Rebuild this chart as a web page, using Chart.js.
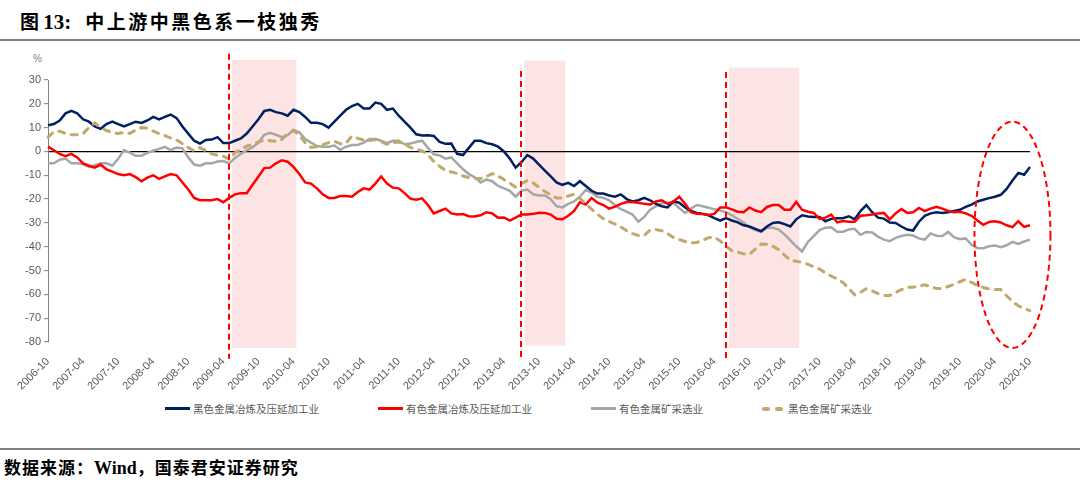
<!DOCTYPE html>
<html>
<head>
<meta charset="utf-8">
<script src="https://cdn.jsdelivr.net/npm/chart.js@4.4.0/dist/chart.umd.min.js"></script>
<style>
  body { margin: 0; width: 1080px; height: 491px; background: #fff; position: relative; overflow: hidden; }
  .title { position: absolute; left: 20px; top: 7px; font: bold 19px "Noto Sans CJK SC", sans-serif; color: #000; white-space: nowrap; }
  .title .num { font-family: "Liberation Serif", serif; font-size: 21px; }
  .title .cn { letter-spacing: 2.5px; margin-left: 14px; }
  .rule { position: absolute; left: 0; width: 1080px; height: 2px; background: #7f7f7f; }
  .unit { position: absolute; left: 33px; top: 53px; font: 10px "Liberation Sans", Arial, sans-serif; color: #7f7f7f; }
  #wrap { position: absolute; left: 0; top: 45px; width: 1080px; height: 350px; }
  #legend { position: absolute; left: 165px; top: 401px; display: flex; gap: 59px; font: 10.5px "Noto Sans CJK SC", sans-serif; color: #595959; }
  #legend .item { display: flex; align-items: center; }
  #legend .line { width: 25px; height: 3px; margin-right: 3px; }
  #legend .dash { width: 8px; height: 4px; border-radius: 2px; margin-right: 5px; }
  .source { position: absolute; left: 4px; top: 454px; font: bold 17px "Noto Sans CJK SC", sans-serif; letter-spacing: 1px; color: #000; white-space: nowrap; }
  .source .en { font-family: "Liberation Serif", serif; font-size: 18px; letter-spacing: 0; }
</style>
</head>
<body>
<div class="title">图 <span class="num">13:</span><span class="cn">中上游中黑色系一枝独秀</span></div>
<div class="rule" style="top:39px"></div>
<div class="unit">%</div>
<div id="wrap"><canvas id="chart" width="1080" height="350"></canvas></div>
<div id="legend"></div>
<div class="rule" style="top:448px"></div>
<div class="source">数据来源：<span class="en">Wind</span>，国泰君安证券研究</div>
<script>
// monthly labels 2006-10 .. 2020-10
const labels = [];
for (let yr = 2006, mo = 10; yr < 2020 || (yr === 2020 && mo <= 10); mo++) {
  if (mo > 12) { mo = 1; yr++; }
  labels.push(yr + '-' + String(mo).padStart(2, '0'));
}

const seriesNames = ['黑色金属冶炼及压延加工业', '有色金属冶炼及压延加工业', '有色金属矿采选业', '黑色金属矿采选业'];

const ferrousSmelting = [
  11, 11.5, 13, 16, 17, 16, 13.5, 12.5, 10.5, 9.5, 11.5, 12.5,
  11.5, 10.5, 11.5, 12.5, 12, 13, 14.5, 13.5, 14.5, 15.5, 14, 10.5,
  7.5, 4.5, 3.3, 4.8, 5, 6, 3.5, 3.5, 4.5, 5.5, 7.5, 10.5,
  13.5, 17, 17.5, 16.5, 16, 15, 17.5, 16.5, 14.5, 12, 12, 11.5,
  10, 12.5, 15, 17.5, 19, 20, 18, 18, 20.5, 20, 17.5, 18,
  15, 12.5, 10, 7.2, 6.7, 6.8, 6.5, 4, 3.2, 3.3, -1, -1.5,
  1.5, 4.5, 4.5, 3.5, 3, 2, 0, -3, -6.8, -4.5, -1.5, -3,
  -5.5, -8, -10.5, -13, -14, -13.2, -14.5, -12.5, -14.5, -16.5, -17.7, -17.7,
  -18.5, -19, -18, -20, -21, -20.5, -19.5, -20.5, -22, -23, -23.5, -21,
  -21.5, -23.5, -25, -25.8, -26.2, -26.8, -28, -29, -28, -29, -29.8, -31,
  -31.5, -32.5, -33.5, -31.5, -30, -29.7, -30.5, -31.5, -28.5, -26.8, -27.3, -27.5,
  -27.5, -29.3, -28.3, -28, -28, -27.2, -28.5, -25, -22.5, -25.5, -27.8, -28.2,
  -29.8, -30, -31.5, -32.8, -33.2, -29.5, -27, -26, -25.5, -25.8, -25.5, -25,
  -24.5, -23.3, -22.3, -21, -20.3, -19.6, -19, -18.2, -15.7, -12.2, -9, -9.8,
  -6.5
];

const nonferrousSmelting = [
  2, 0.5, -1, -2, -1, -2.5, -5, -6, -6.8, -5.5, -7.5, -8.5,
  -9.5, -10, -9.5, -10.8, -12.5, -11, -10, -11.5, -10.5, -9.5, -10, -13,
  -16, -19.5, -20.5, -20.5, -20.5, -20, -21.3, -19.5, -18, -17.5, -17.5, -14,
  -10.5, -7, -6.8, -5, -3.7, -4.3, -6.5, -9.5, -13, -13.5, -15.5, -18,
  -19.5, -19.5, -18.7, -18.7, -19, -17, -15.5, -16, -13.5, -10.5, -13.5, -15.2,
  -15.5, -17.5, -19.8, -20.3, -19.7, -22.5, -26, -25, -24, -26, -26.5, -26.3,
  -27.2, -27.3, -26.8, -25.5, -26, -27.8, -27.7, -29, -27.8, -26.5, -26.5, -26.2,
  -25.7, -25.8, -26.5, -28.3, -28.5, -27, -25, -21.3, -22.3, -19.5, -21.5, -22.5,
  -24, -23.2, -22, -21.2, -21.2, -21.5, -22, -22.3, -21, -20.5, -22, -21,
  -19, -22, -25.5, -26.2, -26.3, -26.7, -26.2, -23.5, -23.5, -24.3, -25.3, -25.5,
  -23.5, -24.8, -25.5, -23.3, -22.5, -22.5, -24.5, -24.5, -21.2, -24.5, -25.3, -25.8,
  -28.3, -27.8, -26.5, -29.8, -29.2, -29.5, -29.5, -27, -26.8, -26.5, -26, -25.8,
  -28.5, -26, -24.2, -25.8, -25.5, -23.7, -25, -24, -23.2, -24, -25, -25.5,
  -25.3, -26, -27, -29, -30.8, -29.6, -29.3, -29.8, -31, -31.8, -29.3, -31.7,
  -31
];

const nonferrousMining = [
  -5, -5, -3.5, -3, -5, -5, -5.3, -6.5, -5.8, -5, -5, -6,
  -3.1, 0.6, -0.5, -1.8, -1.8, -0.6, 0.3, 1.1, 1.9, 0.6, 1.6, 1.3,
  -2.5, -5.5, -6, -5, -5, -4.2, -4, -5, -2.7, -1, 0.5, 1.8,
  3.7, 7, 7.8, 7, 6, 6.8, 9, 8, 5.2, 3.7, 2.3, 2,
  2, 2.5, 0.7, 2, 2.7, 2.7, 3.7, 5.2, 5.2, 4.5, 3.5, 4.5,
  4.5, 3, 3.3, 4, 4.5, 1.5, -1.2, -1.7, -3, -2.5, -5, -7.5,
  -9.5, -10.8, -13, -11.8, -12.5, -14.5, -15.5, -16.5, -19, -16.5, -16, -18,
  -18.5, -18.5, -20, -23, -23.5, -22, -21, -19, -16.2, -17.3, -19, -19.5,
  -20.5, -22.6, -24.2, -25.3, -26.5, -29.5, -27.5, -24.5, -23, -21.7, -21.5, -21.7,
  -23.8, -25.8, -24, -22.5, -23, -23.6, -24.3, -24.8, -25.5, -26.8, -28.3, -29.8,
  -31.8, -33, -33.8, -32, -32, -32.8, -34.8, -37.3, -39.8, -42, -38, -35.5,
  -33, -32, -31.8, -33.7, -33.7, -32.8, -32.5, -35, -33.8, -34, -35.8, -37,
  -37.7, -36.3, -35.5, -35, -35.3, -36.5, -37, -34.4, -35.4, -35.5, -33.8, -36,
  -36.8, -36.5, -39.2, -40.5, -40.6, -39.8, -39.5, -40.2, -39.4, -38, -38.8, -37.8,
  -37
];

const ferrousMining = [
  6, 8.3, 8.5, 7.5, 7, 7, 7.5, 10, 12, 10, 8.8, 8,
  7.5, 8, 7.6, 9, 10, 9.8, 8.5, 7.5, 6.7, 5.6, 4.8, 3.2,
  1.6, 0.3, 1.6, 0.3, -1, -1.6, -2, -3.3, -0.5, 0.8, 2.2, 3,
  4, 4.8, 4.5, 4.2, 5, 7.5, 8.8, 6.8, 3.6, 1.7, 2, 2.8,
  3.7, 4.3, 3.2, 3.5, 6.5, 5.5, 4.8, 4.6, 5, 4.1, 3, 3.6,
  4, 3, 1.7, 0.8, 0.3, -1.5, -4.2, -6.2, -8, -8.6, -9.2, -10.3,
  -11, -11.3, -11.4, -10.5, -9.3, -10.3, -11.8, -13.3, -15, -13.5, -12.2, -13.2,
  -15, -16.8, -18.2, -19.5, -19.5, -18.7, -18, -19.7, -22, -24.2, -26.4, -28.2,
  -29.4, -30.5, -31.7, -33.3, -34.5, -35.3, -35.3, -33, -32.8, -33.3, -34.5, -36.2,
  -37, -37.8, -38.4, -38.2, -37.3, -36.2, -36, -37.6, -39.8, -41.7, -42.3, -43,
  -43.2, -41, -38.9, -39, -39.8, -41.2, -43.5, -45.7, -46.1, -46.5, -47.4, -48.4,
  -49.4, -51, -52.3, -53.5, -55, -57.5, -60.2, -59.2, -57.6, -58.5, -59.7, -60.5,
  -60.5, -59.2, -58, -57, -57, -56.5, -56, -56.8, -57.5, -57.6, -56.7, -55.8,
  -54.7, -53.7, -55, -56.2, -57.1, -57.7, -58, -58, -60.6, -63, -64.8, -66,
  -66.8
];

// policy markers: dashed line month, then shaded period
const markerMonths = ['2009-05', '2013-07', '2016-06'];
const shadedPeriods = [['2009-06', '2010-04'], ['2013-08', '2014-02'], ['2016-07', '2017-06']];

const colors = ['#002060', '#ff0000', '#a6a6a6', '#c2a86c'];

const marks = {
  id: 'marks',
  beforeDraw(chart, args, o) {
    const { ctx, scales: { x, y } } = chart;
    ctx.save();
    ctx.fillStyle = '#fde4e4';
    shadedPeriods.forEach((p, i) => {
      const x0 = x.getPixelForValue(labels.indexOf(p[0]) - 0.5);
      const x1 = x.getPixelForValue(labels.indexOf(p[1]) + 0.5);
      const y0 = y.getPixelForValue(o.bandTop[i]);
      const y1 = y.getPixelForValue(o.bandBottom[i]);
      ctx.fillRect(x0, y0, x1 - x0, y1 - y0);
    });
    ctx.restore();
  },
  afterDatasetsDraw(chart, args, o) {
    const { ctx, scales: { x, y } } = chart;
    ctx.save();
    ctx.strokeStyle = '#ff0000';
    ctx.lineWidth = 2;
    ctx.setLineDash([6, 4]);
    markerMonths.forEach((m, i) => {
      const px = Math.round(x.getPixelForValue(labels.indexOf(m)));
      ctx.beginPath();
      ctx.moveTo(px, y.getPixelForValue(o.lineTop[i]));
      ctx.lineTo(px, y.getPixelForValue(o.lineBottom));
      ctx.stroke();
    });
    // ring around the latest months
    const c = labels.indexOf('2020-07');
    const l = x.getPixelForValue(c - 6.5), r = x.getPixelForValue(c + 6.5);
    const t = y.getPixelForValue(12.5), b = y.getPixelForValue(-82.5);
    ctx.beginPath();
    ctx.ellipse((l + r) / 2, (t + b) / 2, (r - l) / 2, (b - t) / 2, 0, 0, Math.PI * 2);
    ctx.stroke();
    ctx.restore();
  }
};

Chart.defaults.font.family = '"Liberation Sans", Arial, sans-serif';
Chart.defaults.color = '#595959';

const series = [ferrousSmelting, nonferrousSmelting, nonferrousMining, ferrousMining];
const drawOrder = [2, 1, 3, 0];

new Chart(document.getElementById('chart'), {
  type: 'line',
  data: {
    labels: labels,
    datasets: series.map((d, i) => ({
      label: seriesNames[i],
      data: d,
      borderColor: colors[i],
      borderWidth: i === 3 ? 3 : 2.5,
      borderDash: i === 3 ? [6, 7] : [],
      borderCapStyle: i === 3 ? 'round' : 'butt',
      pointRadius: 0,
      tension: 0,
      fill: false,
      order: drawOrder[i]
    }))
  },
  options: {
    responsive: false,
    animation: false,
    devicePixelRatio: 1,
    layout: { padding: { left: 8, right: 50, top: 35, bottom: 0 } },
    plugins: {
      legend: { display: false },
      tooltip: { enabled: false },
      marks: { bandTop: [38.5, 38.2, 35.2], bandBottom: [-82.5, -81.5, -82.5], lineTop: [41, 33.8, 33.4], lineBottom: -87 }
    },
    scales: {
      x: {
        grid: { display: false },
        border: { display: false },
        ticks: {
          autoSkip: false,
          minRotation: 45,
          maxRotation: 45,
          padding: 5,
          font: { size: 11 },
          callback: (v, i) => (i % 6 === 0 ? labels[i] : '')
        },
        afterFit: s => { s.height = 53; }
      },
      y: {
        min: -80,
        max: 30,
        ticks: { stepSize: 10, padding: 3, font: { size: 11 } },
        grid: {
          color: c => (c.tick && c.tick.value === 0 ? '#000000' : 'rgba(0,0,0,0)'),
          lineWidth: 1.3,
          tickColor: '#808080',
          tickWidth: 1,
          tickLength: 4
        },
        border: { display: true, color: '#808080', width: 1 },
        afterFit: s => { s.width = 40; }
      }
    }
  },
  plugins: [marks]
});

// legend
const legend = document.getElementById('legend');
seriesNames.forEach((name, i) => {
  const item = document.createElement('div');
  item.className = 'item';
  if (i === 3) {
    item.innerHTML = '<span class="dash" style="background:' + colors[i] + '"></span><span class="dash" style="background:' + colors[i] + '"></span>';
  } else {
    item.innerHTML = '<span class="line" style="background:' + colors[i] + '"></span>';
  }
  const txt = document.createElement('span');
  txt.textContent = name;
  item.appendChild(txt);
  legend.appendChild(item);
});
</script>
</body>
</html>
